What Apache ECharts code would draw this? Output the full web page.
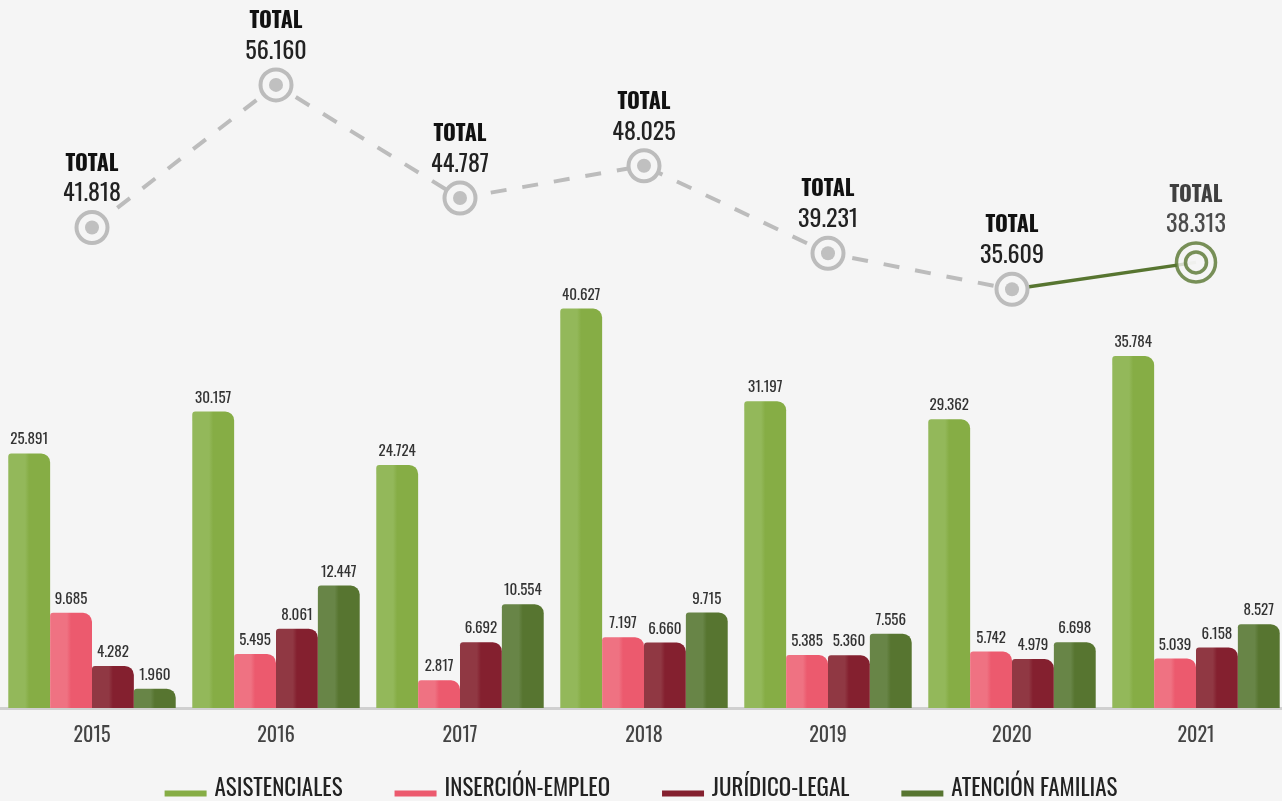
<!DOCTYPE html>
<html lang="es">
<head>
  <meta charset="UTF-8" />
  <title>Totales por año</title>
  <script src="https://cdn.jsdelivr.net/npm/echarts@6/dist/echarts.min.js"></script>
  <style>
    html, body { margin: 0; padding: 0; background: #f5f5f5; }
    #chart { width: 1282px; height: 801px; }
  </style>
</head>
<body>
  <div id="chart"></div>
<script type="text/javascript">
  // datos
  var years = ['2015', '2016', '2017', '2018', '2019', '2020', '2021'];
  var asistenciales = [25891, 30157, 24724, 40627, 31197, 29362, 35784];
  var insercion = [9685, 5495, 2817, 7197, 5385, 5742, 5039];
  var juridico = [4282, 8061, 6692, 6660, 5360, 4979, 6158];
  var familias = [1960, 12447, 10554, 9715, 7556, 6698, 8527];
  var totals = [41818, 56160, 44787, 48025, 39231, 35609, 38313];
  var seriesNames = ['ASISTENCIALES', 'INSERCIÓN-EMPLEO', 'JURÍDICO-LEGAL', 'ATENCIÓN FAMILIAS'];

  var FONT = 'Oswald, "Liberation Sans Narrow", "DejaVu Sans Condensed", "Roboto Condensed", "Liberation Sans", sans-serif';

  // colores: [base, claro]
  var colors = [
    ['#86ad45', '#93b85a'],
    ['#ec5a6e', '#ef7282'],
    ['#84202f', '#903843'],
    ['#577530', '#688547']
  ];

  function fmt(v) {
    return String(v).replace(/\B(?=(\d{3})+(?!\d))/g, '.');
  }

  function barGradient(c) {
    return new echarts.graphic.LinearGradient(0, 0, 1, 0, [
      { offset: 0, color: c[1] },
      { offset: 0.40, color: c[1] },
      { offset: 0.50, color: c[0] },
      { offset: 1, color: c[0] }
    ]);
  }

  function barSeries(name, data, c) {
    return {
      name: name,
      type: 'bar',
      data: data,
      barGap: '0%',
      barCategoryGap: '9%',
      itemStyle: { color: barGradient(c), borderRadius: [3, 9, 0, 0] },
      label: {
        show: true,
        position: 'top',
        distance: 6,
        color: '#333',
        fontFamily: FONT,
        fontSize: 15,
        formatter: function (p) { return fmt(p.value); }
      }
    };
  }

  // línea de totales: tramo gris discontinuo y tramo verde final
  var dashedData = totals.map(function (v, i) { return i < totals.length - 1 ? v : null; });
  var solidData = totals.map(function (v, i) { return i >= totals.length - 2 ? v : null; });
  var grayDots = totals.map(function (v, i) { return i < totals.length - 1 ? v : null; });
  var greenDot = totals.map(function (v, i) { return i === totals.length - 1 ? v : null; });

  var totalLabel = {
    show: true,
    position: 'top',
    distance: 1,
    fontFamily: FONT,
    formatter: function (p) { return '{t|TOTAL}\n{v|' + fmt(p.value) + '}'; },
    rich: {
      t: { fontFamily: FONT, fontSize: 22, fontWeight: 'bold', color: '#111', lineHeight: 30, align: 'center' },
      v: { fontFamily: FONT, fontSize: 24, color: '#222', lineHeight: 30, align: 'center' }
    }
  };

  var legendData = seriesNames.map(function (n, i) {
    return { name: n, itemStyle: { color: colors[i][0] } };
  });

  var chart = echarts.init(document.getElementById('chart'));

  chart.setOption({
    backgroundColor: '#f5f5f5',
    animation: false,
    grid: { left: 0, top: 0, width: 1288, bottom: 93, containLabel: false, outerBoundsMode: 'none' },
    legend: {
      bottom: -4,
      left: 'center',
      data: legendData,
      itemWidth: 42,
      itemHeight: 16,
      itemGap: 52,
      icon: 'path://M0,0L0,0M0,10h42v6h-42z',
      textStyle: { fontFamily: FONT, fontSize: 23, color: '#222', padding: [0, 0, 0, 3] }
    },
    xAxis: {
      type: 'category',
      data: years,
      axisLine: { show: true, lineStyle: { color: '#d0d0d0', width: 3 } },
      axisTick: { show: false },
      axisLabel: { fontFamily: FONT, fontSize: 20, color: '#444', margin: 18 }
    },
    yAxis: [
      { type: 'value', min: 0, max: 72000, show: false, splitLine: { show: false } },
      { type: 'value', min: -6500, max: 64700, show: false, splitLine: { show: false } }
    ],
    series: [
      barSeries(seriesNames[0], asistenciales, colors[0]),
      barSeries(seriesNames[1], insercion, colors[1]),
      barSeries(seriesNames[2], juridico, colors[2]),
      barSeries(seriesNames[3], familias, colors[3]),
      {
        type: 'line',
        yAxisIndex: 1,
        data: dashedData,
        symbol: 'circle',
        symbolSize: 31,
        itemStyle: { color: '#f5f5f5', borderColor: '#bcbcbc', borderWidth: 4 },
        lineStyle: { color: '#bcbcbc', width: 4, type: [16, 16] },
        label: totalLabel,
        z: 3
      },
      {
        type: 'line',
        yAxisIndex: 1,
        data: solidData,
        showSymbol: false,
        symbol: 'none',
        lineStyle: { color: '#577530', width: 3.5 },
        z: 2
      },
      {
        type: 'scatter',
        yAxisIndex: 1,
        data: grayDots,
        symbolSize: 14,
        itemStyle: { color: '#b3b3b3' },
        z: 4
      },
      {
        type: 'scatter',
        yAxisIndex: 1,
        data: greenDot,
        symbolSize: 39,
        itemStyle: { color: '#f5f5f5', borderColor: '#577530', borderWidth: 3.5 },
        label: totalLabel,
        z: 4
      },
      {
        type: 'scatter',
        yAxisIndex: 1,
        data: greenDot,
        symbolSize: 21,
        itemStyle: { color: '#f5f5f5', borderColor: '#577530', borderWidth: 3.5 },
        z: 5
      }
    ]
  });
</script>
</body>
</html>
